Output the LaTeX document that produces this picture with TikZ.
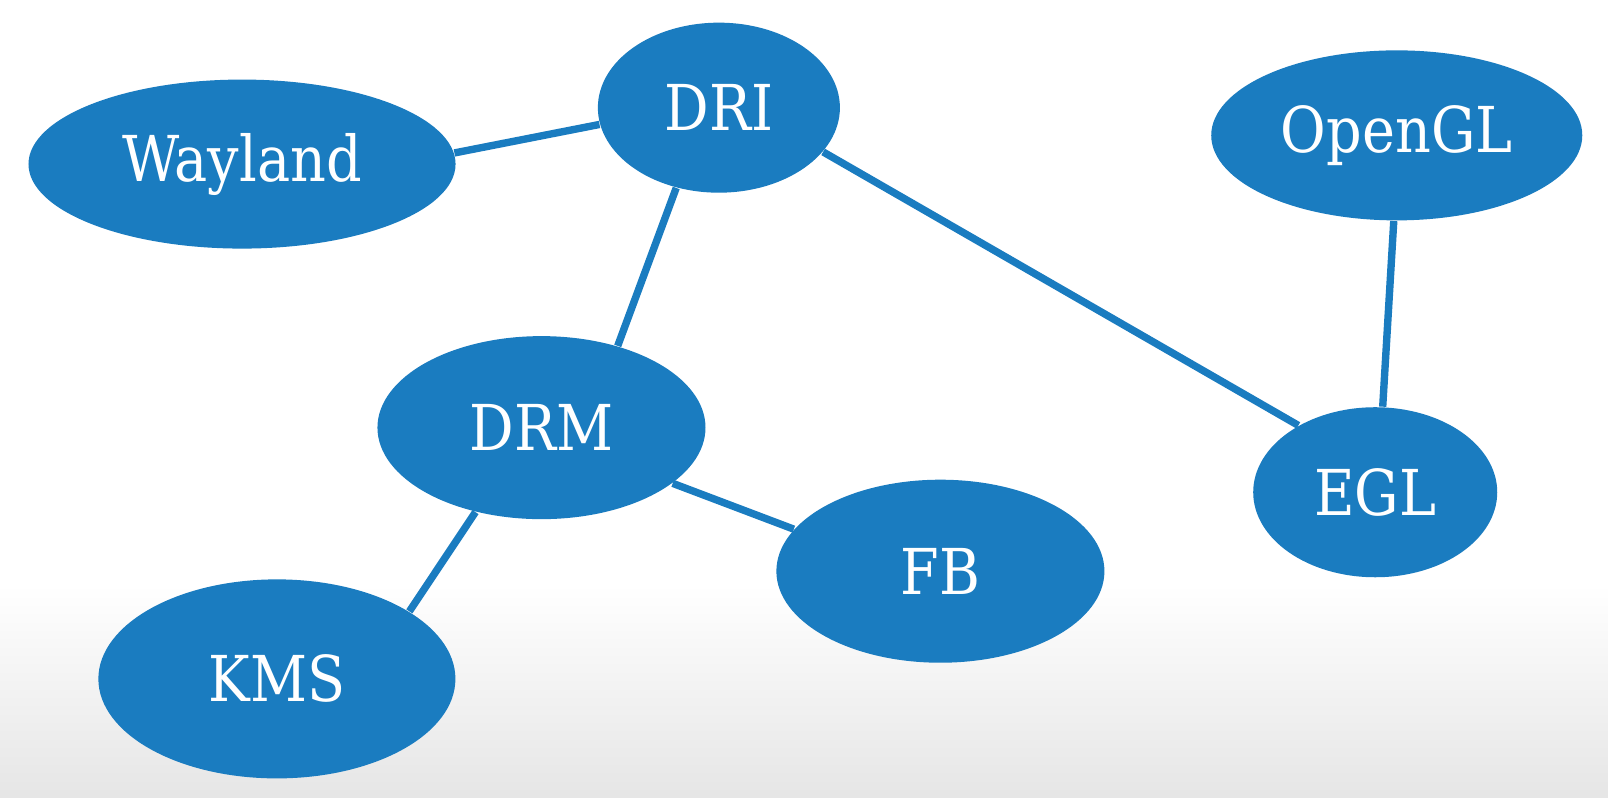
\documentclass[tikz,border=0pt]{standalone}
\usepackage{fontspec}
\setmainfont{DejaVu Serif}[FakeStretch=0.88]
\usetikzlibrary{shapes.geometric}
\definecolor{graphblue}{HTML}{1A7CC0}
\tikzset{
  blob/.style={ellipse, fill=graphblue, text=white, inner sep=0pt, font=\fontsize{18}{21}\selectfont},
  link/.style={draw=graphblue, line width=2.1pt}
}
\begin{document}
\begin{tikzpicture}[x=0.010255cm, y=-0.010255cm]
		% background, white fading to grey at the bottom
		\fill[white] (0,0) rectangle (1568,778);
		\shade[top color=white, bottom color=black!10] (0,570) rectangle (1568,778);
		\useasboundingbox (0,0) rectangle (1568,778);

		\node[blob, minimum width=4.27cm, minimum height=1.69cm] (way) at (236,160) {Wayland};
		\node[blob, minimum width=2.42cm, minimum height=1.70cm] (dri) at (701,105) {DRI};
		\node[blob, minimum width=3.71cm, minimum height=1.70cm] (ogl) at (1362,132) {OpenGL};
		\node[blob, minimum width=3.28cm, minimum height=1.83cm] (drm) at (528,417) {DRM};
		\node[blob, minimum width=2.44cm, minimum height=1.70cm] (egl) at (1341,480) {EGL};
		\node[blob, minimum width=3.28cm, minimum height=1.83cm] (fb) at (917,557) {FB};
		\node[blob, minimum width=3.57cm, minimum height=1.99cm] (kms) at (270,662) {KMS};

		\draw[link] (way.3) -- (dri.188);
		\draw[link] (dri.242) -- (drm.47);
		\draw[link] (dri.337) -- (egl.139);
		\draw[link] (ogl.268) -- (egl.85);
		\draw[link] (drm.337) -- (fb.164);
		\draw[link] (drm.232) -- (kms.27);

	\end{tikzpicture}
\end{document}
